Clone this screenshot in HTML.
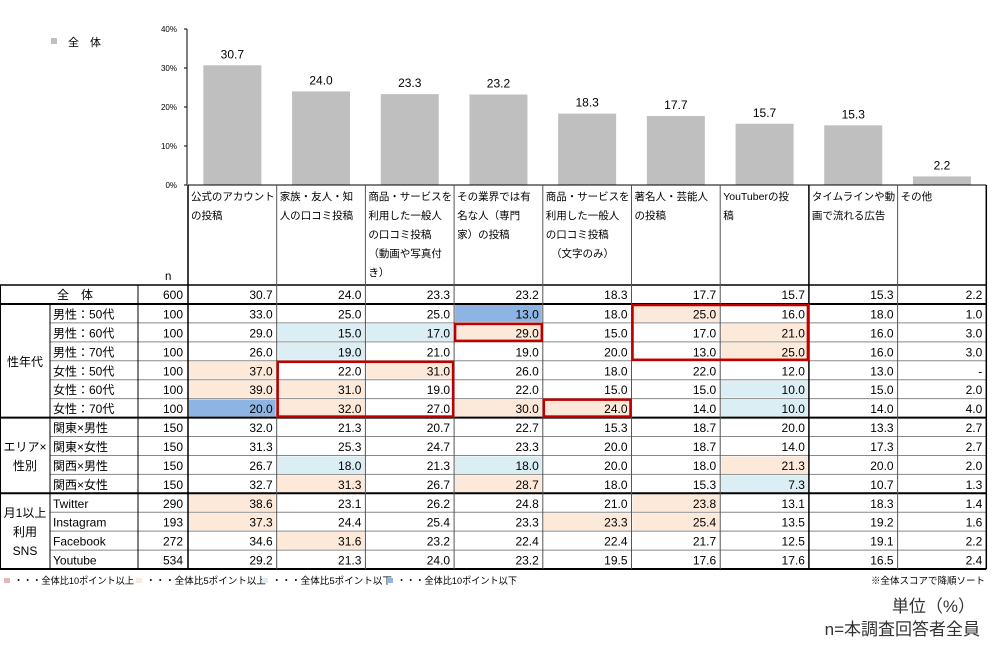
<!DOCTYPE html>
<html><head><meta charset="utf-8">
<style>
body{margin:0;background:#fff;}
svg{display:block;font-family:"Liberation Sans","Noto Sans CJK JP",sans-serif;}
</style></head>
<body>
<svg id="chart" width="1000" height="665" viewBox="0 0 1000 665" xmlns="http://www.w3.org/2000/svg"></svg>
<script>
const categories = [
  ["公式のアカウント","の投稿"],
  ["家族・友人・知","人の口コミ投稿"],
  ["商品・サービスを","利用した一般人","の口コミ投稿","（動画や写真付","き）"],
  ["その業界では有","名な人（専門","家）の投稿"],
  ["商品・サービスを","利用した一般人","の口コミ投稿","　（文字のみ）"],
  ["著名人・芸能人","の投稿"],
  ["YouTuberの投","稿"],
  ["タイムラインや動","画で流れる広告"],
  ["その他"]
];
const totalValues = [30.7,24.0,23.3,23.2,18.3,17.7,15.7,15.3,2.2];
const yTicks = [0,10,20,30,40];
const rowLabels = ["男性：50代","男性：60代","男性：70代","女性：50代","女性：60代","女性：70代","関東×男性","関東×女性","関西×男性","関西×女性","Twitter","Instagram","Facebook","Youtube"];
const rowN = [100,100,100,100,100,100,150,150,150,150,290,193,272,534];
const rowValues = [
  [33.0,25.0,25.0,13.0,18.0,25.0,16.0,18.0,1.0],
  [29.0,15.0,17.0,29.0,15.0,17.0,21.0,16.0,3.0],
  [26.0,19.0,21.0,19.0,20.0,13.0,25.0,16.0,3.0],
  [37.0,22.0,31.0,26.0,18.0,22.0,12.0,13.0,null],
  [39.0,31.0,19.0,22.0,15.0,15.0,10.0,15.0,2.0],
  [20.0,32.0,27.0,30.0,24.0,14.0,10.0,14.0,4.0],
  [32.0,21.3,20.7,22.7,15.3,18.7,20.0,13.3,2.7],
  [31.3,25.3,24.7,23.3,20.0,18.7,14.0,17.3,2.7],
  [26.7,18.0,21.3,18.0,20.0,18.0,21.3,20.0,2.0],
  [32.7,31.3,26.7,28.7,18.0,15.3,7.3,10.7,1.3],
  [38.6,23.1,26.2,24.8,21.0,23.8,13.1,18.3,1.4],
  [37.3,24.4,25.4,23.3,23.3,25.4,13.5,19.2,1.6],
  [34.6,31.6,23.2,22.4,22.4,21.7,12.5,19.1,2.2],
  [29.2,21.3,24.0,23.2,19.5,17.6,17.6,16.5,2.4]
];
const groups = [{label:["性年代"],from:0,to:6},{label:["エリア×","性別"],from:6,to:10},{label:["月1以上","利用","SNS"],from:10,to:14}];
const highlights = [
  "...B.o...",".bbo..o..",".b....o..","o.o......","oo....b..",
  "Bo.oo.b..",".........",".........",".b.b..o..",".o.o..b..",
  "o....o...","o...oo...",".o.......","........."
];
const redBoxes = [{c0:1,c1:2,r0:3,r1:5},{c0:3,c1:3,r0:1,r1:1},{c0:4,c1:4,r0:5,r1:5},{c0:5,c1:6,r0:0,r1:2}];

const svg = document.getElementById('chart');
const NS = "http://www.w3.org/2000/svg";
function mk(tag, attrs, parent){const e=document.createElementNS(NS,tag);for(const k in attrs)e.setAttribute(k,attrs[k]);(parent||svg).appendChild(e);return e;}
function txt(x,y,s,attrs){const t=mk('text',Object.assign({x:x,y:y},attrs||{}));t.textContent=s;return t;}

const X0=188, colW=88.7;
const colX = i => X0 + i*colW;
const yScale = v => 185 - v*3.9;
const HEAD_BOTTOM=285, TOT_BOTTOM=304, rowH=18.93;
const rowY = i => TOT_BOTTOM + i*rowH;
const fills = {o:"#fde9d9", b:"#daeef3", B:"#8db4e2"};

let lg = mk('rect',{x:51,y:38,width:6,height:6,fill:"#bfbfbf"});


let lgt = txt(68,46,"全　体",{"font-size":11});



let ax = mk('line',{x1:187,y1:29,x2:187,y2:185,stroke:"#000","stroke-width":1});


yTicks.forEach(t=>{
  const y=yScale(t);
  mk('line',{x1:184,y1:y,x2:187,y2:y,stroke:"#000"});
  const l=txt(177,y+3,t+"%",{"font-size":8,"text-anchor":"end"});
  
  
});
totalValues.forEach((v,i)=>{
  const cx=colX(i)+colW/2;
  const b=mk('rect',{x:cx-29,y:yScale(v),width:58,height:185-yScale(v),fill:"#bfbfbf"});
  
  
  const l=txt(cx,yScale(v)-7,v.toFixed(1),{"font-size":12,"text-anchor":"middle"});
  
  
});

rowValues.forEach((row,r)=>{
  row.forEach((v,c)=>{
    const h=highlights[r][c];
    if(fills[h]){
      const rc=mk('rect',{x:colX(c)+1,y:rowY(r)+1,width:colW-2,height:rowH-2,fill:fills[h]});
      
      
    }
  });
});

const R = colX(9);
for(let r=1;r<14;r++){ if(r===6||r===10) continue;
  mk('line',{x1:50,y1:rowY(r),x2:R,y2:rowY(r),stroke:"#888","stroke-width":1});
}
[[0,185,1],[0,HEAD_BOTTOM,1.5],[0,TOT_BOTTOM,2],[0,rowY(6),2],[0,rowY(10),2],[0,rowY(14),2]].forEach(([x,y,w])=>{
  mk('line',{x1:(y===185?X0:x),y1:y,x2:R,y2:y,stroke:"#000","stroke-width":w});
});
mk('line',{x1:0.5,y1:HEAD_BOTTOM,x2:0.5,y2:rowY(14),stroke:"#000"});
mk('line',{x1:50,y1:TOT_BOTTOM,x2:50,y2:rowY(14),stroke:"#000"});
mk('line',{x1:138,y1:HEAD_BOTTOM,x2:138,y2:rowY(14),stroke:"#000"});
for(let c=0;c<=9;c++){
  const w=(c===0||c===7||c===9)?1.5:1;
  mk('line',{x1:colX(c),y1:185,x2:colX(c),y2:rowY(14),stroke:(w>1?"#000":"#555"),"stroke-width":w});
}

categories.forEach((lines,i)=>{
  lines.forEach((s,k)=>{
    const t=txt(colX(i)+3,200+k*19,s,{"font-size":10.5});
    
    
    if(t.getComputedTextLength && t.getComputedTextLength()>colW-5){
      t.setAttribute('textLength',colW-5);
      t.setAttribute('lengthAdjust','spacingAndGlyphs');
    }
  });
});
txt(165,280,"n",{"font-size":11.5});

txt(75,299,"全　体",{"font-size":12,"text-anchor":"middle"});
txt(183,299,"600",{"font-size":12,"text-anchor":"end"});
totalValues.forEach((v,i)=>{
  const t=txt(colX(i+1)-4,299,v.toFixed(1),{"font-size":12,"text-anchor":"end"});
  
  
});

groups.forEach(g=>{
  const mid=(rowY(g.from)+rowY(g.to))/2;
  const n=g.label.length;
  g.label.forEach((s,k)=>{
    const t=txt(25,mid+5+(k-(n-1)/2)*19,s,{"font-size":12,"text-anchor":"middle"});
    
    
  });
});
rowValues.forEach((row,r)=>{
  const y=rowY(r)+14.5;
  const l=txt(53,y,rowLabels[r],{"font-size":12});
  
  
  txt(183,y,String(rowN[r]),{"font-size":12,"text-anchor":"end"});
  row.forEach((v,c)=>{
    const t=txt(colX(c+1)-4,y,v===null?"-":v.toFixed(1),{"font-size":12,"text-anchor":"end"});
    
    
  });
});

redBoxes.forEach(b=>{
  const rb=mk('rect',{x:colX(b.c0)+1,y:rowY(b.r0)+1,width:colX(b.c1+1)-colX(b.c0)-2,height:rowY(b.r1+1)-rowY(b.r0)-2,fill:"none",stroke:"#c00000","stroke-width":2.5});
  
  
});

const lgItems=[["#e6b8b7","・・・全体比10ポイント以上",4],["#fde9d9","・・・全体比5ポイント以上",136],["#daeef3","・・・全体比5ポイント以下",262],["#8db4e2","・・・全体比10ポイント以下",387]];
lgItems.forEach(([c,s,x])=>{
  mk('rect',{x:x,y:578,width:6,height:5,fill:c});
  const t=txt(x+10,584,s,{"font-size":9.5,textLength:120,lengthAdjust:"spacingAndGlyphs"});
  
  
});
txt(985,584,"※全体スコアで降順ソート",{"font-size":9.5,"text-anchor":"end"});
txt(975,612,"単位（%）",{"font-size":17,"text-anchor":"end",fill:"#333"});
txt(980,635,"n=本調査回答者全員",{"font-size":17,"text-anchor":"end",fill:"#333"});
</script>
</body></html>
